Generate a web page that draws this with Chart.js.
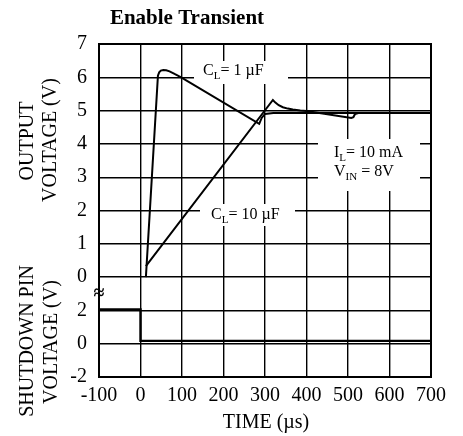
<!DOCTYPE html>
<html><head><meta charset="utf-8">
<script src="https://cdn.jsdelivr.net/npm/chart.js@4.4.0/dist/chart.umd.min.js"></script>
<style>html,body{margin:0;padding:0;background:#fff;overflow:hidden}</style>
</head><body>
<canvas id="c" width="463" height="436"></canvas>
<script>
// ---- data ----
const timeCL1  = [13, 42, 45, 49, 55, 62, 70, 82, 98, 286, 292, 300, 320, 700];
const voltCL1  = [0, 6.05, 6.15, 6.2, 6.22, 6.21, 6.18, 6.1, 6.0, 4.6, 4.78, 4.9, 4.93, 4.93];
const timeCL10 = [13, 319, 325, 333, 343, 355, 367, 385, 400, 508, 513, 517, 525, 700];
const voltCL10 = [0.33, 5.32, 5.24, 5.16, 5.1, 5.06, 5.03, 5.0, 4.99, 4.78, 4.8, 4.9, 4.93, 4.93];
const timeSD   = [-100, 0, 0, 700];
const voltSD   = [2.05, 2.05, 0.17, 0.17];
const outputTickLabels   = ['0','1','2','3','4','5','6','7'];
const shutdownTickLabels = ['-2','0','2'];

// lower (shutdown) panel is drawn on the same axis: 2 V per unit, 0 V at -2
const sdToAxis = w => -2 + w / 2;

const SERIF = '"Liberation Serif", "Times New Roman", serif';
const pts = (ts, vs, f) => ts.map((t, i) => ({x: t, y: f ? f(vs[i]) : vs[i]}));

const overlay = {
  id: 'overlay',
  beforeDatasetsDraw(chart) {
    const ctx = chart.ctx;
    ctx.save();
    ctx.fillStyle = '#fff';
    // label boxes that interrupt grid lines
    ctx.fillRect(194, 61, 94, 23);
    ctx.fillRect(200, 204, 95, 22);
    ctx.fillRect(318, 139, 102, 52);
    ctx.fillStyle = '#000';
    ctx.textBaseline = 'alphabetic';
    ctx.textAlign = 'left';
    function lab(x, y, main, sub, rest) {
      ctx.font = '16px ' + SERIF;
      ctx.fillText(main, x, y);
      let w = ctx.measureText(main).width;
      ctx.font = '11px ' + SERIF;
      ctx.fillText(sub, x + w, y + 4);
      let ws = ctx.measureText(sub).width;
      ctx.font = '16px ' + SERIF;
      ctx.fillText(rest, x + w + ws, y);
    }
    lab(203, 75, 'C', 'L', '= 1 \u00b5F');
    lab(211, 219, 'C', 'L', '= 10 \u00b5F');
    lab(334, 157, 'I', 'L', '= 10 mA');
    lab(334, 176, 'V', 'IN', ' = 8V');
    ctx.restore();
  },
  afterDraw(chart) {
    const ctx = chart.ctx, a = chart.chartArea;
    ctx.save();
    ctx.strokeStyle = '#000';
    ctx.lineWidth = 2;
    ctx.strokeRect(a.left, a.top, a.right - a.left, a.bottom - a.top);
    ctx.fillStyle = '#000';
    // title
    ctx.font = 'bold 21px ' + SERIF;
    ctx.textAlign = 'center';
    ctx.textBaseline = 'alphabetic';
    ctx.fillText('Enable Transient', 187, 24);
    // x title
    ctx.font = '20px ' + SERIF;
    ctx.fillText('TIME (\u00b5s)', 266, 428);
    // y titles
    ctx.textBaseline = 'middle';
    function vtext(t, x, y) {
      ctx.save(); ctx.translate(x, y); ctx.rotate(-Math.PI / 2);
      ctx.fillText(t, 0, 0); ctx.restore();
    }
    vtext('OUTPUT', 28, 141);
    vtext('VOLTAGE (V)', 51, 140);
    vtext('SHUTDOWN PIN', 28, 341);
    vtext('VOLTAGE (V)', 52, 342);
    // axis break mark
    ctx.font = 'bold 20px ' + SERIF;
    ctx.fillText('\u2248', 99, 294);
    ctx.restore();
  }
};

new Chart(document.getElementById('c'), {
  type: 'scatter',
  data: {
    datasets: [
      {data: pts(timeCL1, voltCL1)},
      {data: pts(timeCL10, voltCL10)},
      {data: pts(timeSD, voltSD, sdToAxis), borderWidth: 2.4}
    ].map(d => Object.assign({showLine: true, borderColor: '#000', borderWidth: 2, pointRadius: 0, tension: 0, fill: false}, d))
  },
  options: {
    responsive: false, animation: false, devicePixelRatio: 1,
    layout: {padding: {top: 44, right: 32, left: 0, bottom: 0}},
    plugins: {legend: {display: false}, tooltip: {enabled: false}, title: {display: false}},
    scales: {
      x: {
        type: 'linear', min: -100, max: 700,
        afterFit: s => { s.height = 59; },
        ticks: {stepSize: 100, color: '#000', padding: 7, font: {family: SERIF, size: 20}, maxRotation: 0},
        grid: {color: '#000', lineWidth: 1.4, drawTicks: false},
        border: {display: false}
      },
      y: {
        type: 'linear', min: -3, max: 7,
        afterFit: s => { s.width = 99; },
        ticks: {
          stepSize: 1, color: '#000', padding: 12, font: {family: SERIF, size: 20},
          callback: v => v >= 0 ? outputTickLabels[v] : shutdownTickLabels[v + 3]
        },
        grid: {color: '#000', lineWidth: 1.4, drawTicks: false},
        border: {display: false}
      }
    }
  },
  plugins: [overlay]
});
</script>
</body></html>
